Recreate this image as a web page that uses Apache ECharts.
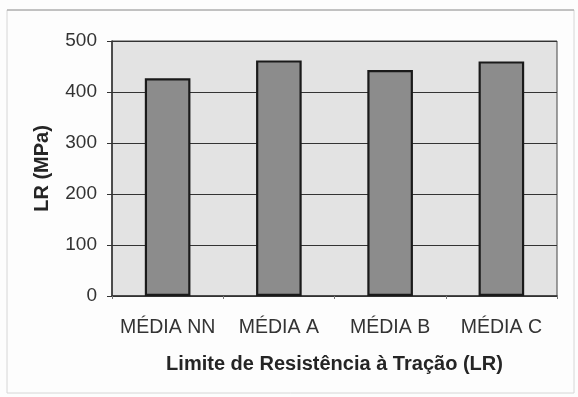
<!DOCTYPE html>
<html>
<head>
<meta charset="utf-8">
<script src="https://cdn.jsdelivr.net/npm/echarts@6/dist/echarts.min.js"></script>
<style>
  html, body { margin: 0; padding: 0; background: #fdfdfd; }
  #chart { width: 578px; height: 397px; }
</style>
</head>
<body>
<div id="chart"></div>
<script>
// Tensile strength means per group
const categories = ['MÉDIA NN', 'MÉDIA A', 'MÉDIA B', 'MÉDIA C'];
const lrValues = [427, 462, 443, 460];
const yTicks = [0, 100, 200, 300, 400, 500];

const FONT = 'Liberation Sans, Arial, Helvetica, sans-serif';

const chart = echarts.init(document.getElementById('chart'), null, { renderer: 'canvas' });

chart.setOption({
  animation: false,
  backgroundColor: '#fdfdfd',
  graphic: [
    {
      type: 'rect',
      shape: { x: 7, y: 10, width: 567, height: 383 },
      style: { fill: 'none', stroke: '#d6d6d6', lineWidth: 1 },
      silent: true
    },
    {
      type: 'line',
      shape: { x1: 7, y1: 10, x2: 574, y2: 10 },
      style: { stroke: '#9a9a9a', lineWidth: 1.2 },
      silent: true
    }
  ],
  grid: {
    left: 112, right: 21, top: 41, bottom: 101,
    show: true,
    backgroundColor: '#e3e3e3',
    borderColor: '#444',
    borderWidth: 1
  },
  xAxis: {
    type: 'category',
    data: categories,
    name: 'Limite de Resistência à Tração (LR)',
    nameLocation: 'middle',
    nameGap: 58,
    nameTextStyle: { fontFamily: FONT, fontWeight: 'bold', fontSize: 20, color: '#252525' },
    axisLine: { show: true, lineStyle: { color: '#333', width: 1.5 } },
    axisTick: { show: true, alignWithLabel: false, length: 3, lineStyle: { color: '#777' } },
    axisLabel: { interval: 0, hideOverlap: false, fontFamily: FONT, fontSize: 19.5, color: '#333', margin: 22 }
  },
  yAxis: {
    type: 'value',
    min: yTicks[0],
    max: yTicks[yTicks.length - 1],
    interval: 100,
    name: 'LR (MPa)',
    nameLocation: 'middle',
    nameGap: 60,
    nameRotate: 90,
    nameTextStyle: { fontFamily: FONT, fontWeight: 'bold', fontSize: 20, color: '#252525' },
    axisLine: { show: true, lineStyle: { color: '#333', width: 1.5 } },
    axisTick: { show: true, length: 5, lineStyle: { color: '#333' } },
    axisLabel: { fontFamily: FONT, fontSize: 19, color: '#333', margin: 15 },
    splitLine: { show: true, lineStyle: { color: '#333', width: 1.2 } }
  },
  series: [{
    type: 'bar',
    data: lrValues,
    barWidth: '41%',
    itemStyle: { color: '#8c8c8c', borderColor: '#1a1a1a', borderWidth: 2.2 }
  }]
});
</script>
</body>
</html>
